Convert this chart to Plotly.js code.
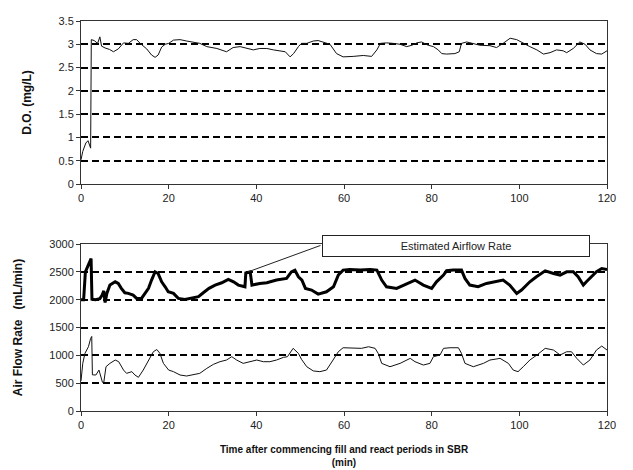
<!DOCTYPE html>
<html>
<head>
<meta charset="utf-8">
<script src="https://cdn.plot.ly/plotly-3.0.1.min.js"></script>
<style>html,body{margin:0;padding:0;background:#fff;}#chart{width:633px;height:470px;}</style>
</head>
<body>
<div id="chart"></div>
<script>
// ---- Data ----
var doTime = [0, 0.4, 1.1, 1.6, 2.2, 2.35, 3.0, 3.8, 4.3, 4.7,
  5.5, 6.5, 7.4, 8.5, 9.7, 10.8, 11.9, 12.7, 13.5, 15,
  16.1, 16.9, 17.6, 18.4, 19.2, 20, 21.1, 22.6, 24.1, 25.6,
  27.1, 28.7, 31, 33.2, 34.7, 36.3, 37.8, 39.3, 40.8, 42.4,
  43.9, 45.4, 46.6, 47.7, 48.5, 49.6, 50.3, 51.5, 53, 54.1,
  55.3, 56.8, 58.3, 59.8, 62.1, 64.4, 66.3, 67.5, 68.3, 69.7,
  71.2, 72.8, 74.3, 75.5, 76.6, 77.7, 79.2, 80.4, 81.5, 82.3,
  83.4, 85.3, 86.3, 86.8, 88, 89.5, 91, 93.3, 94.8, 96.3,
  97.9, 99.4, 100.9, 102.4, 104, 105.5, 107, 108.5, 110, 110.8,
  112.3, 113.8, 115, 116.1, 117.6, 118.8, 120];
var doValue = [0.52, 0.7, 0.88, 0.93, 0.77, 3.1, 3.08, 3.02, 3.16, 2.96,
  2.92, 2.89, 2.84, 2.9, 3.03, 3.02, 3.1, 3.1, 3.02, 2.9,
  2.77, 2.72, 2.77, 2.94, 3.0, 3.02, 3.09, 3.1, 3.07, 3.05,
  3.02, 2.95, 2.91, 2.84, 2.93, 2.95, 2.91, 2.88, 2.91, 2.91,
  2.88, 2.86, 2.84, 2.73, 2.8, 2.95, 3.02, 3.02, 3.07, 3.08,
  3.05, 3.0, 2.8, 2.73, 2.74, 2.76, 2.74, 2.88, 3.02, 3.03,
  3.02, 3.0, 2.95, 2.98, 3.03, 3.05, 2.98, 2.95, 2.88, 2.8,
  2.79, 2.8, 2.84, 3.02, 3.05, 3.02, 2.98, 2.97, 2.93, 3.02,
  3.13, 3.1, 3.02, 2.95, 2.88, 2.79, 2.82, 2.88, 2.86, 2.82,
  2.91, 3.05, 3.0, 2.88, 2.8, 2.79, 2.86];

var measTime = [0, 0.4, 0.9, 1.7, 2.2, 2.45, 2.6, 3.4, 4.1, 4.4,
  4.9, 5.2, 5.7, 6.6, 7.8, 8.6, 9.7, 10.4, 11.6, 12.3,
  13.1, 14.2, 15.4, 16.5, 17.3, 18.0, 18.8, 20.0, 21.1, 22.6,
  24.1, 25.6, 27.1, 28.7, 30.2, 31.7, 33.2, 34.4, 35.5, 37,
  38.6, 40.1, 41.6, 43.1, 44.6, 46.2, 47.1, 48.4, 49.6, 50.3,
  51.5, 53, 54.5, 56, 57.5, 58.7, 59.8, 62.1, 64, 65.6,
  67.1, 67.8, 68.6, 70.5, 72.8, 75.1, 76.2, 78.1, 79.6, 80.4,
  81.9, 82.7, 84.2, 86.1, 86.8, 87.6, 89.5, 91.8, 93.3, 95.6,
  97.5, 98.6, 99.7, 100.9, 102.4, 104, 105.9, 107.8, 109.3, 110.8,
  111.9, 113.1, 114.6, 116.1, 117.6, 118.8, 120];
var measFlow = [540, 856, 1036, 1155, 1305, 1340, 650, 647, 736, 647,
  515, 515, 796, 856, 916, 886, 736, 677, 707, 647,
  605, 736, 916, 1065, 1105, 1036, 856, 736, 707, 647,
  629, 659, 677, 766, 838, 886, 916, 976, 916, 856,
  886, 916, 886, 886, 916, 964, 976, 1126, 1036, 930,
  796, 720, 707, 736, 916, 1065, 1137, 1137, 1126, 1155,
  1126, 1036, 856, 796, 856, 946, 886, 826, 856, 976,
  1006, 1126, 1137, 1137, 1036, 856, 796, 856, 916, 946,
  856, 736, 707, 796, 916, 1006, 1126, 1096, 1006, 1065,
  1065, 946, 826, 916, 1096, 1167, 1096];

var estTime = [0, 0.6, 1.0, 1.6, 2.3, 2.5, 3.3, 4.3, 4.8, 5.2,
  5.5, 5.9, 6.6, 7.8, 8.5, 9.2, 10.0, 10.8, 11.9, 12.7,
  13.8, 14.6, 15.4, 16.1, 16.9, 17.6, 18.4, 19.2, 19.9, 21.1,
  22.2, 23.7, 25.3, 26.8, 27.9, 29.2, 30.6, 32.1, 33.6, 34.8,
  35.9, 37.4, 37.6, 38.6, 39.0, 40.8, 42.4, 44.6, 46.9, 48.0,
  48.8, 49.6, 50.4, 51.2, 52.6, 54.1, 56, 57.6, 58.7, 59.8,
  61.3, 63.7, 66, 67.5, 68.6, 69.7, 72, 74.3, 76.2, 78.1,
  80, 81.1, 82.7, 83.4, 84.9, 86.8, 87.6, 88.7, 90.6, 92.5,
  94.8, 96.3, 97.8, 99.4, 100.5, 102.4, 103.9, 105.9, 107.8, 109.3,
  110.8, 112.3, 113.4, 114.6, 115.3, 116.5, 117.6, 118.8, 120];
var estFlow = [2000, 2000, 2500, 2620, 2740, 2010, 2000, 2020, 2080, 2160,
  1950, 2114, 2263, 2322, 2293, 2204, 2125, 2114, 2083, 2024,
  2024, 2114, 2204, 2353, 2502, 2470, 2322, 2233, 2143, 2114,
  2024, 2006, 2024, 2054, 2125, 2204, 2263, 2305, 2365, 2322,
  2263, 2233, 2480, 2500, 2263, 2293, 2305, 2353, 2383, 2500,
  2530, 2412, 2353, 2204, 2174, 2101, 2143, 2233, 2443, 2532,
  2542, 2532, 2542, 2532, 2353, 2233, 2204, 2293, 2353, 2263,
  2204, 2322, 2443, 2520, 2532, 2532, 2383, 2263, 2233, 2293,
  2322, 2353, 2263, 2114, 2174, 2322, 2413, 2520, 2472, 2443,
  2502, 2502, 2413, 2263, 2322, 2413, 2502, 2560, 2542];

var xTicks = [0, 20, 40, 60, 80, 100, 120];
var doTicks = [0, 0.5, 1, 1.5, 2, 2.5, 3, 3.5];
var doTickText = ['0', '0.5', '1', '1.5', '2', '2.5', '3', '3.5'];
var flowTicks = [0, 500, 1000, 1500, 2000, 2500, 3000];
var annotText = 'Estimated Airflow Rate';
var annotPoint = {t: 38.1, flow: 2500};

// ---- Chart ----
var FONT = 'Liberation Sans, Arial, Helvetica, sans-serif';
var traces = [
  {x: doTime, y: doValue, xaxis: 'x', yaxis: 'y', mode: 'lines', type: 'scatter',
   line: {color: '#111', width: 1}, hoverinfo: 'skip'},
  {x: estTime, y: estFlow, xaxis: 'x2', yaxis: 'y2', mode: 'lines', type: 'scatter',
   line: {color: '#000', width: 3}, hoverinfo: 'skip'},
  {x: measTime, y: measFlow, xaxis: 'x2', yaxis: 'y2', mode: 'lines', type: 'scatter',
   line: {color: '#111', width: 1}, hoverinfo: 'skip'}
];

function xAxis(anchor, title) {
  var a = {anchor: anchor, domain: [0, 1], range: [0, 120], tickvals: xTicks,
    ticks: 'outside', ticklen: 4, tickcolor: '#333', showgrid: false, zeroline: false,
    showline: true, linecolor: '#333', linewidth: 1, mirror: true,
    tickfont: {family: FONT, size: 11, color: '#222'}, fixedrange: true};
  if (title) a.title = {text: title, font: {family: FONT, size: 10, color: '#111'}, standoff: 15};
  return a;
}
function yAxis(anchor, domain, range, vals, text, title) {
  var a = {anchor: anchor, domain: domain, range: range, tickvals: vals,
    ticks: 'outside', ticklen: 4, tickcolor: '#333', showgrid: true, gridcolor: '#000',
    gridwidth: 2, griddash: '7px,4px', zeroline: false,
    showline: true, linecolor: '#333', linewidth: 1, mirror: true,
    tickfont: {family: FONT, size: 11, color: '#222'}, fixedrange: true,
    title: {text: title, font: {family: FONT, size: 12, color: '#111'}, standoff: 24}};
  if (text) a.ticktext = text;
  return a;
}

var layout = {
  width: 633, height: 470,
  margin: {l: 81, r: 26, t: 21, b: 59},
  paper_bgcolor: '#fff', plot_bgcolor: '#fff',
  showlegend: false,
  font: {family: FONT, size: 10, color: '#222'},
  xaxis: xAxis('y', null),
  yaxis: yAxis('x', [0.582, 1], [0, 3.5], doTicks, doTickText, '<b>D.O. (mg/L)</b>'),
  xaxis2: xAxis('y2', '<b>Time after commencing fill and react periods in SBR</b><br><b>(min)</b>'),
  yaxis2: yAxis('x2', [0, 0.428], [0, 3000], flowTicks, null, '<b>Air Flow Rate&nbsp;&nbsp;&nbsp;(mL/min)</b>'),
  annotations: [
    {xref: 'paper', yref: 'paper', x: 0.713, y: 0.4218, xanchor: 'center', yanchor: 'middle',
     text: annotText, showarrow: false, width: 262, height: 16, borderpad: 2,
     bordercolor: '#222', borderwidth: 1, bgcolor: '#fff',
     font: {family: FONT, size: 11, color: '#222'}},
    {xref: 'x2', yref: 'y2', x: annotPoint.t, y: annotPoint.flow, text: '',
     showarrow: true, arrowhead: 0, arrowwidth: 1, arrowcolor: '#222',
     ax: 74, ay: -27, standoff: 0, startstandoff: 0}
  ]
};

Plotly.newPlot('chart', traces, layout, {staticPlot: true, displayModeBar: false});
</script>
</body>
</html>
